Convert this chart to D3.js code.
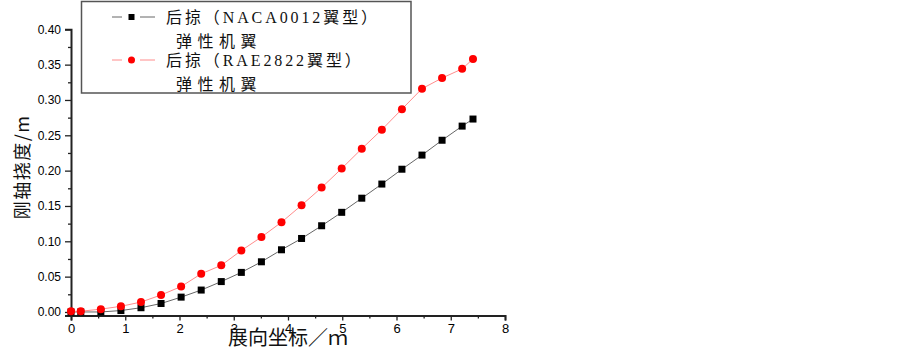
<!DOCTYPE html>
<html>
<head>
<meta charset="utf-8">
<script src="https://cdn.jsdelivr.net/npm/d3@7"></script>
<style>
body{margin:0;background:#fff;}
svg{display:block;}
</style>
</head>
<body>
<svg id="chart" width="903" height="349"></svg>
<script>
// span positions (m)
var xVals = [0,0.18,0.55,0.92,1.29,1.66,2.03,2.40,2.77,3.14,3.51,3.88,4.25,4.62,4.99,5.36,5.73,6.10,6.47,6.84,7.21,7.41];
// NACA0012 elastic wing deflection
var nacaVals = [0,0,0,0.002,0.006,0.012,0.021,0.031,0.043,0.056,0.071,0.088,0.104,0.122,0.141,0.161,0.181,0.202,0.222,0.243,0.263,0.273];
// RAE2822 elastic wing deflection
var raeVals = [0.001,0.001,0.004,0.008,0.014,0.024,0.036,0.054,0.066,0.087,0.106,0.127,0.151,0.176,0.203,0.231,0.258,0.287,0.316,0.331,0.344,0.358];
var xTicks = [0,1,2,3,4,5,6,7,8];
var yTicks = [0,0.05,0.10,0.15,0.20,0.25,0.30,0.35,0.40];
var legendNames = [["后掠（NACA0012翼型）","弹性机翼"],["后掠（RAE2822翼型）","弹性机翼"]];

var svg = d3.select("#chart");
var x = d3.scaleLinear().domain([0,8]).range([71,505]);
var y = d3.scaleLinear().domain([-0.005,0.40]).range([315.5,29.3]);

var axisColor = "#222";

// minor ticks
var xMinor = d3.range(0.5,8,1);
var yMinor = d3.range(0.025,0.40,0.05);

var gx = svg.append("g").attr("transform","translate(0,"+y(-0.005)+")");
gx.call(d3.axisBottom(x).tickValues(xTicks).tickFormat(d3.format("d")).tickSize(5).tickPadding(3));
gx.append("g").call(d3.axisBottom(x).tickValues(xMinor).tickFormat("").tickSize(3));
gx.selectAll("path.domain").attr("stroke",axisColor).attr("stroke-width",2);
gx.selectAll(".tick line").attr("stroke",axisColor).attr("stroke-width",1.3);
gx.selectAll(".tick text").attr("font-family","Liberation Sans, Arial").attr("font-size",13).attr("fill","#000");
gx.selectAll("g g path.domain").remove();

var gy = svg.append("g").attr("transform","translate("+x(0)+",0)");
gy.call(d3.axisLeft(y).tickValues(yTicks).tickFormat(d3.format(".2f")).tickSize(6).tickPadding(4));
gy.append("g").call(d3.axisLeft(y).tickValues(yMinor).tickFormat("").tickSize(3));
gy.selectAll("path.domain").attr("stroke",axisColor).attr("stroke-width",2);
gy.selectAll(".tick line").attr("stroke",axisColor).attr("stroke-width",1.3);
gy.selectAll(".tick text").attr("font-family","Liberation Sans, Arial").attr("font-size",12).attr("fill","#000");
gy.selectAll("g g path.domain").remove();

// series
var line = d3.line().x(function(d){return x(d[0]);}).y(function(d){return y(d[1]);});
var naca = xVals.map(function(v,i){return [v,nacaVals[i]];});
var rae = xVals.map(function(v,i){return [v,raeVals[i]];});

svg.append("path").datum(naca).attr("d",line).attr("fill","none").attr("stroke","#666").attr("stroke-width",1);
svg.append("path").datum(rae).attr("d",line).attr("fill","none").attr("stroke","#ff8c8c").attr("stroke-width",1);

svg.append("g").selectAll("rect").data(naca).enter().append("rect")
    .attr("x",function(d){return x(d[0])-3.5;})
    .attr("y",function(d){return y(d[1])-3.5;})
    .attr("width",7).attr("height",7).attr("fill","#000");
svg.append("g").selectAll("circle").data(rae).enter().append("circle")
    .attr("cx",function(d){return x(d[0]);})
    .attr("cy",function(d){return y(d[1]);})
    .attr("r",4).attr("fill","#ff0000");

// legend
var lg = svg.append("g");
lg.append("rect").attr("x",81.5).attr("y",1.5).attr("width",329.5).attr("height",91.5)
    .attr("fill","#fff").attr("stroke","#555").attr("stroke-width",1.5);
var rows = [{y:17,col:"#666",mark:"sq"},{y:60,col:"#ff8c8c",mark:"ci"}];
rows.forEach(function(r,i){
    lg.append("line").attr("x1",112).attr("x2",122).attr("y1",r.y).attr("y2",r.y).attr("stroke",r.col);
    lg.append("line").attr("x1",140).attr("x2",155).attr("y1",r.y).attr("y2",r.y).attr("stroke",r.col);
    if(r.mark=="sq")
        lg.append("rect").attr("x",128.5).attr("y",r.y-3).attr("width",6).attr("height",6).attr("fill","#000");
    else
        lg.append("circle").attr("cx",131.5).attr("cy",r.y).attr("r",3.5).attr("fill","#ff0000");
    lg.append("text").attr("x",166).attr("y",r.y+6).text(legendNames[i][0])
        .attr("font-family","Liberation Serif, Noto Sans CJK SC").attr("font-size",16)
        .attr("letter-spacing",2.9).attr("fill","#111");
    lg.append("text").attr("x",176).attr("y",r.y+30).text(legendNames[i][1])
        .attr("font-family","Liberation Serif, Noto Sans CJK SC").attr("font-size",16)
        .attr("letter-spacing",5.5).attr("fill","#111");
});

// axis titles
svg.append("text").attr("x",288).attr("y",345).attr("text-anchor","middle")
    .attr("font-family","Noto Sans CJK SC").attr("font-size",20).attr("fill","#111")
    .text("展向坐标／ｍ");
svg.append("text").attr("transform","translate(29,167) rotate(-90)").attr("text-anchor","middle")
    .attr("font-family","Noto Sans CJK SC").attr("font-size",18).attr("letter-spacing",1.5).attr("fill","#111")
    .text("刚轴挠度/m");
</script>
</body>
</html>
